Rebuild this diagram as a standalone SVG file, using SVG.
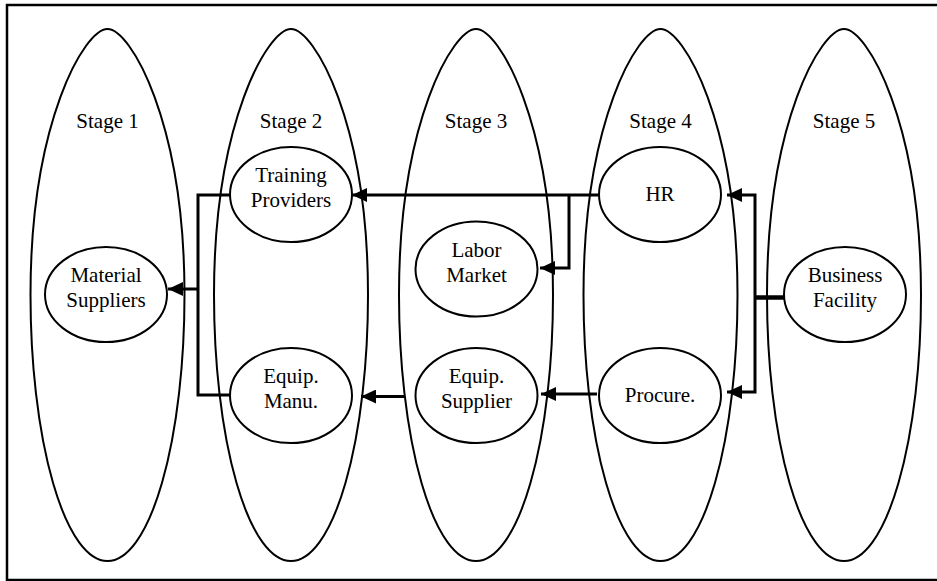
<svg xmlns="http://www.w3.org/2000/svg" width="937" height="581" viewBox="0 0 937 581">
<defs>
<style>
.stage{fill:none;stroke:#000;stroke-width:2}
.node{fill:#fff;stroke:#000;stroke-width:2}
.t{font-family:"Liberation Serif","Times New Roman",serif;font-size:21px;fill:#000;text-anchor:middle}
.c{fill:none;stroke:#000;stroke-width:3}
</style>
<path id="egg" d="M-77,295 C-77,122 -23,29 0,29 C23,29 77,122 77,295 A77,266 0 0 1 -77,295 Z"/>
<marker id="arr" markerUnits="userSpaceOnUse" markerWidth="16" markerHeight="14" refX="15" refY="7" orient="auto">
<path d="M0,0 L15,7 L0,14 Z" fill="#000"/>
</marker>
</defs>
<rect x="7" y="5" width="945" height="575" fill="#fff" stroke="#000" stroke-width="2.5"/>
<g id="stage1"><use href="#egg" class="stage" transform="translate(107.5,0)"/><text class="t" x="107.5" y="128">Stage 1</text></g>
<g id="stage2"><use href="#egg" class="stage" transform="translate(291,0)"/><text class="t" x="291" y="128">Stage 2</text></g>
<g id="stage3"><use href="#egg" class="stage" transform="translate(476,0)"/><text class="t" x="476" y="128">Stage 3</text></g>
<g id="stage4"><use href="#egg" class="stage" transform="translate(660.5,0)"/><text class="t" x="660.5" y="128">Stage 4</text></g>
<g id="stage5"><use href="#egg" class="stage" transform="translate(844,0)"/><text class="t" x="844" y="128">Stage 5</text></g>
<g id="connectors">
<polyline class="c" points="598,195 352,195" marker-end="url(#arr)"/>
<polyline class="c" points="569,195 569,268 540,268" marker-end="url(#arr)"/>
<polyline class="c" points="230,195 198,195 198,395 230,395"/>
<polyline class="c" points="198,289 168,289" marker-end="url(#arr)"/>
<polyline class="c" points="405,396.5 361,396.5" marker-end="url(#arr)"/>
<polyline class="c" points="597,394 541,394" marker-end="url(#arr)"/>
<polyline class="c" points="755,297 755,195 727,195" marker-end="url(#arr)"/>
<polyline class="c" points="755,297 755,392 727,392" marker-end="url(#arr)"/>
<line x1="755" y1="297.5" x2="784" y2="297.5" stroke="#000" stroke-width="4.5"/>
</g>
<g id="material-suppliers"><ellipse class="node" cx="106" cy="294.5" rx="61" ry="47.5"/><text class="t" x="106" y="282">Material</text><text class="t" x="106" y="307">Suppliers</text></g>
<g id="training-providers"><ellipse class="node" cx="291" cy="194.5" rx="61" ry="47.5"/><text class="t" x="291" y="182">Training</text><text class="t" x="291" y="207">Providers</text></g>
<g id="equip-manu"><ellipse class="node" cx="291" cy="395.5" rx="61" ry="47.5"/><text class="t" x="291" y="383">Equip.</text><text class="t" x="291" y="408">Manu.</text></g>
<g id="labor-market"><ellipse class="node" cx="476.5" cy="269" rx="61" ry="47.5"/><text class="t" x="476.5" y="257">Labor</text><text class="t" x="476.5" y="282">Market</text></g>
<g id="equip-supplier"><ellipse class="node" cx="476.5" cy="395.5" rx="61" ry="47.5"/><text class="t" x="476.5" y="383">Equip.</text><text class="t" x="476.5" y="408">Supplier</text></g>
<g id="hr"><ellipse class="node" cx="660" cy="194.5" rx="61" ry="47.5"/><text class="t" x="660" y="201">HR</text></g>
<g id="procure"><ellipse class="node" cx="660" cy="395.5" rx="61" ry="47.5"/><text class="t" x="660" y="402">Procure.</text></g>
<g id="business-facility"><ellipse class="node" cx="845" cy="294.5" rx="61" ry="47.5"/><text class="t" x="845" y="282">Business</text><text class="t" x="845" y="307">Facility</text></g>
</svg>
